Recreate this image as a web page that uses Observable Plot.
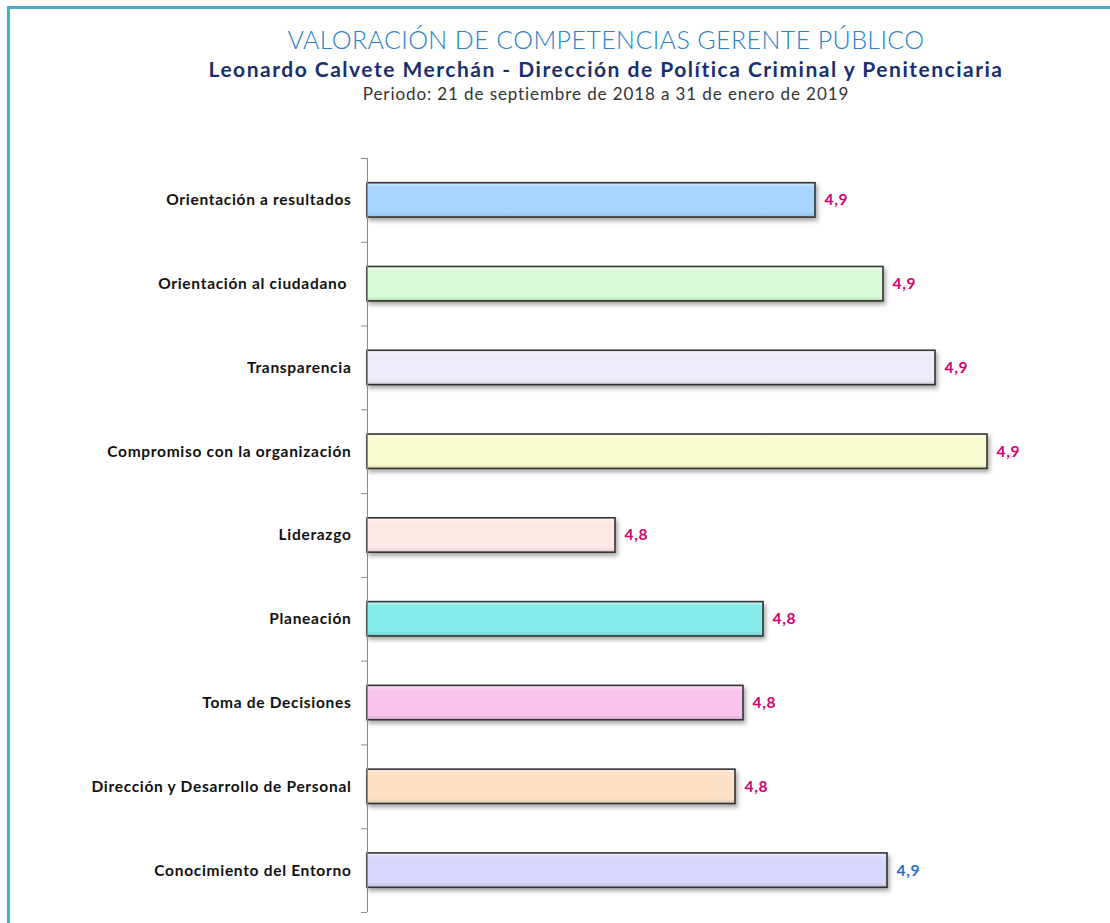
<!DOCTYPE html>
<html>
<head>
<meta charset="utf-8">
<script src="https://cdn.jsdelivr.net/npm/d3@7"></script>
<script src="https://cdn.jsdelivr.net/npm/@observablehq/plot@0.6"></script>
<style>
  html, body { margin: 0; padding: 0; background: #fff; overflow: hidden; }
  body { width: 1110px; height: 923px; position: relative; }
  #frame { position: absolute; left: 7px; top: 6px; width: 1300px; height: 1100px; border: 3px solid #4bacc6; box-sizing: border-box; }
  #header { position: relative; height: 140px; }
  .hl { position: absolute; left: 606px; transform: translateX(-50%); white-space: nowrap; line-height: 1; }
  #t1 { top: 27px; font-family: Lato, sans-serif; font-weight: 300; font-size: 25px; color: #2a80c8; letter-spacing: 0.4px; }
  #t2 { top: 58px; font-family: Lato, sans-serif; font-weight: 700; font-size: 21px; color: #1a2f6e; letter-spacing: 1.5px; }
  #t3 { top: 85px; font-family: Lato, sans-serif; font-weight: 400; font-size: 17px; color: #333; letter-spacing: 0.9px; }
  #chart { position: relative; }
  g[aria-label="rect"] rect { filter: drop-shadow(2px 3px 2px rgba(0,0,0,0.35)); }
  g[aria-label="y-axis tick label"] text, g[aria-label="text"] text { letter-spacing: 0.7px; }
</style>
</head>
<body>
<div id="frame"></div>
<div id="header">
  <div class="hl" id="t1">VALORACIÓN DE COMPETENCIAS GERENTE PÚBLICO</div>
  <div class="hl" id="t2">Leonardo Calvete Merchán - Dirección de Política Criminal y Penitenciaria</div>
  <div class="hl" id="t3">Periodo: 21 de septiembre de 2018 a 31 de enero de 2019</div>
</div>
<div id="chart"></div>
<script>
const categories = [
  "Orientación a resultados",
  "Orientación al ciudadano ",
  "Transparencia",
  "Compromiso con la organización",
  "Liderazgo",
  "Planeación",
  "Toma de Decisiones",
  "Dirección y Desarrollo de Personal",
  "Conocimiento del Entorno"
];
const scores = [4.852, 4.869, 4.882, 4.895, 4.802, 4.839, 4.834, 4.832, 4.870];
const barColors = ["#a6d5fd", "#d8fbd6", "#efebf8", "#fdfdd2", "#fde8e8", "#84ebe8", "#f8c4ec", "#fde0c6", "#d8d8fd"];
const labelColors = ["#d4006e", "#d4006e", "#d4006e", "#d4006e", "#d4006e", "#d4006e", "#d4006e", "#d4006e", "#1a72c8"];
const xMin = 4.74, xMax = 4.92;

const data = categories.map((c, i) => ({
  i, cat: c, v: scores[i], fill: `url(#grad${i})`, lc: labelColors[i]
}));
const boundaries = d3.range(-0.5, categories.length, 1);
const half = 0.205;

const plot = Plot.plot({
  width: 1110,
  height: 783,
  marginTop: 18,
  marginBottom: 11,
  marginLeft: 367,
  marginRight: 23,
  style: { fontFamily: "Lato, sans-serif", background: "transparent", overflow: "visible" },
  x: { domain: [xMin, xMax], axis: null },
  y: { domain: [-0.5, categories.length - 0.5], reverse: true, axis: null },
  color: { type: "identity" },
  marks: [
    Plot.rectX(data, {
      x1: () => xMin, x2: "v",
      y1: d => d.i - half, y2: d => d.i + half,
      fill: "fill", stroke: "#333", strokeWidth: 1.6
    }),
    Plot.ruleX([xMin], { y1: -0.5, y2: categories.length - 0.5, stroke: "#8a8a8a", strokeWidth: 1 }),
    Plot.axisY({ ticks: boundaries, tickSize: 6, tickFormat: () => "", label: null, stroke: "#8a8a8a", strokeWidth: 1 }),
    Plot.axisY({
      ticks: d3.range(categories.length), tickSize: 0, tickPadding: 16, label: null,
      tickFormat: i => categories[i], fontSize: 15.5, fontWeight: "bold", fill: "#111"
    }),
    Plot.text(data, {
      x: "v", y: "i", text: d => d.v.toFixed(1).replace(".", ","),
      dx: 9, textAnchor: "start", fill: "lc", fontSize: 15.5, fontWeight: "bold"
    })
  ]
});

const svg = d3.select(plot);
const defs = svg.insert("defs", ":first-child");
barColors.forEach((c, i) => {
  const g = defs.append("linearGradient").attr("id", `grad${i}`)
    .attr("x1", 0).attr("y1", 0).attr("x2", 0).attr("y2", 1);
  const light = d3.interpolateRgb(c, "#ffffff")(0.55);
  const dark = d3.interpolateRgb(c, "#000000")(0.12);
  g.append("stop").attr("offset", "0%").attr("stop-color", light);
  g.append("stop").attr("offset", "14%").attr("stop-color", c);
  g.append("stop").attr("offset", "86%").attr("stop-color", c);
  g.append("stop").attr("offset", "100%").attr("stop-color", dark);
});
document.getElementById("chart").appendChild(plot);
</script>
</body>
</html>
